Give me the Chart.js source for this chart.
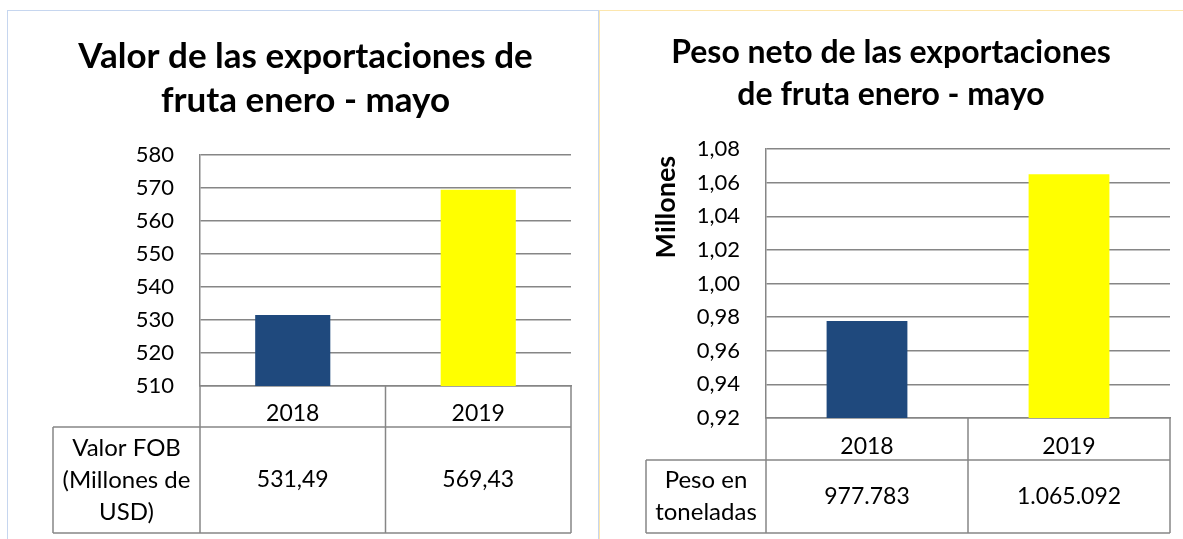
<!DOCTYPE html>
<html>
<head>
<meta charset="utf-8">
<script src="https://cdn.jsdelivr.net/npm/chart.js@4"></script>
<style>
  html, body { margin: 0; padding: 0; background: #fff; }
  body { width: 1183px; height: 539px; position: relative; overflow: hidden; }
  .panel { position: absolute; top: 10px; height: 620px; box-sizing: border-box; }
  #panelLeft { left: 7px; width: 592px; border: 1.5px solid #c6d6ef; }
  #panelRight { left: 599px; width: 620px; border: 1.5px solid #fce6ad; }
  canvas { position: absolute; top: 0; }
  #valorChart { left: 0; }
  #pesoChart { left: 590px; }
</style>
</head>
<body>
<div class="panel" id="panelLeft"></div>
<div class="panel" id="panelRight"></div>
<canvas id="valorChart" width="590" height="539"></canvas>
<canvas id="pesoChart" width="593" height="539"></canvas>
<script>
// Data
const years = ['2018', '2019'];
const valorFob = [531.49, 569.43];          // millones de USD
const pesoToneladas = [977783, 1065092];    // toneladas
const barColors = ['#1f497d', '#ffff00'];

const valorTicks = { min: 510, max: 580, step: 10 };
const pesoTicks = { min: 0.92, max: 1.08, step: 0.02 };

const FONT = 'Lato, "Open Sans", sans-serif';
const GRID = '#868686';

function fmtDecimal(v, d) {
    return v.toFixed(d).replace('.', ',');
}
function fmtThousands(v) {
    return String(Math.round(v)).replace(/\B(?=(\d{3})+(?!\d))/g, '.');
}

// draws the data table row below the category axis
const dataTablePlugin = {
    id: 'dataTable',
    afterDraw(chart, args, opts) {
        const { ctx, chartArea } = chart;
        const x = chart.scales.x;
        const n = chart.data.labels.length;
        const step = (x.right - x.left) / n;
        const top = x.bottom;
        const bottom = top + opts.rowHeight;

        ctx.save();
        ctx.strokeStyle = GRID;
        ctx.lineWidth = 1.5;
        ctx.beginPath();
        for (let i = 0; i <= n; i++) {
            const px = x.left + i * step;
            ctx.moveTo(px, chartArea.bottom);
            ctx.lineTo(px, bottom);
        }
        ctx.moveTo(opts.headerLeft, top);
        ctx.lineTo(x.right, top);
        ctx.moveTo(opts.headerLeft, bottom);
        ctx.lineTo(x.right, bottom);
        ctx.moveTo(opts.headerLeft, top);
        ctx.lineTo(opts.headerLeft, bottom);
        ctx.stroke();

        ctx.fillStyle = '#000';
        ctx.font = '24px ' + FONT;
        ctx.textAlign = 'center';
        ctx.textBaseline = 'middle';
        const midY = (top + bottom) / 2;
        const hx = (opts.headerLeft + x.left) / 2;
        const lines = opts.header;
        lines.forEach((t, i) => {
            ctx.fillText(t, hx, midY + (i - (lines.length - 1) / 2) * opts.lineGap);
        });
        ctx.font = '23px ' + FONT;
        opts.values.forEach((t, i) => {
            ctx.fillText(t, x.left + (i + 0.5) * step, midY);
        });
        ctx.restore();
    }
};

function makeChart(id, cfg) {
    return new Chart(document.getElementById(id), {
        type: 'bar',
        data: {
            labels: years,
            datasets: [{
                data: cfg.values,
                backgroundColor: barColors,
                borderWidth: 0,
                barPercentage: cfg.barPct,
                categoryPercentage: 1
            }]
        },
        options: {
            responsive: false,
            animation: false,
            layout: { padding: cfg.padding },
            plugins: {
                legend: { display: false },
                tooltip: { enabled: false },
                title: {
                    display: true,
                    text: cfg.title,
                    color: '#000',
                    font: { family: FONT, size: cfg.titleSize, weight: 'bold', lineHeight: cfg.titleLH },
                    padding: cfg.titlePad
                },
                dataTable: cfg.table
            },
            scales: {
                x: {
                    grid: { display: false },
                    border: { display: true, color: GRID, width: 1.5 },
                    ticks: { color: '#000', font: { family: FONT, size: 23 }, padding: cfg.xPad },
                    afterFit: s => { s.height = cfg.xHeight; }
                },
                y: {
                    min: cfg.ticks.min,
                    max: cfg.ticks.max,
                    grid: { color: GRID, lineWidth: 1.5, drawTicks: false },
                    border: { display: true, color: GRID, width: 1.5 },
                    ticks: {
                        stepSize: cfg.ticks.step,
                        color: '#000',
                        padding: 26,
                        font: { family: FONT, size: 22 },
                        callback: cfg.tickFmt
                    },
                    title: cfg.yTitle,
                    afterFit: s => { s.width = cfg.yWidth; }
                }
            }
        },
        plugins: [dataTablePlugin]
    });
}

makeChart('valorChart', {
    values: valorFob,
    barPct: 0.405,
    title: ['Valor de las exportaciones de', 'fruta enero - mayo'],
    titleSize: 35,
    titleLH: 1.257,
    titlePad: { top: 25, bottom: 32 },
    padding: { top: 10, left: 40, right: 19, bottom: 112 },
    xPad: 6,
    xHeight: 41,
    yWidth: 160,
    ticks: valorTicks,
    tickFmt: v => String(Math.round(v)),
    yTitle: { display: false },
    table: {
        headerLeft: 53,
        rowHeight: 106,
        lineGap: 32,
        header: ['Valor FOB', '(Millones de', 'USD)'],
        values: valorFob.map(v => fmtDecimal(v, 2))
    }
});

makeChart('pesoChart', {
    values: pesoToneladas.map(v => v / 1e6),
    barPct: 0.4,
    title: ['Peso neto de las exportaciones', 'de fruta enero - mayo'],
    titleSize: 32,
    titleLH: 1.3,
    titlePad: { top: 22, bottom: 34 },
    padding: { top: 10, left: 22, right: 13, bottom: 79 },
    xPad: 7,
    xHeight: 42,
    yWidth: 154,
    ticks: pesoTicks,
    tickFmt: v => fmtDecimal(v, 2),
    yTitle: {
        display: true,
        text: 'Millones\u00a0',
        align: 'end',
        color: '#000',
        font: { family: FONT, size: 27, weight: 'bold' },
        padding: { top: 38, bottom: 0 }
    },
    table: {
        headerLeft: 56,
        rowHeight: 73,
        lineGap: 32,
        header: ['Peso en', 'toneladas'],
        values: pesoToneladas.map(fmtThousands)
    }
});
</script>
</body>
</html>
